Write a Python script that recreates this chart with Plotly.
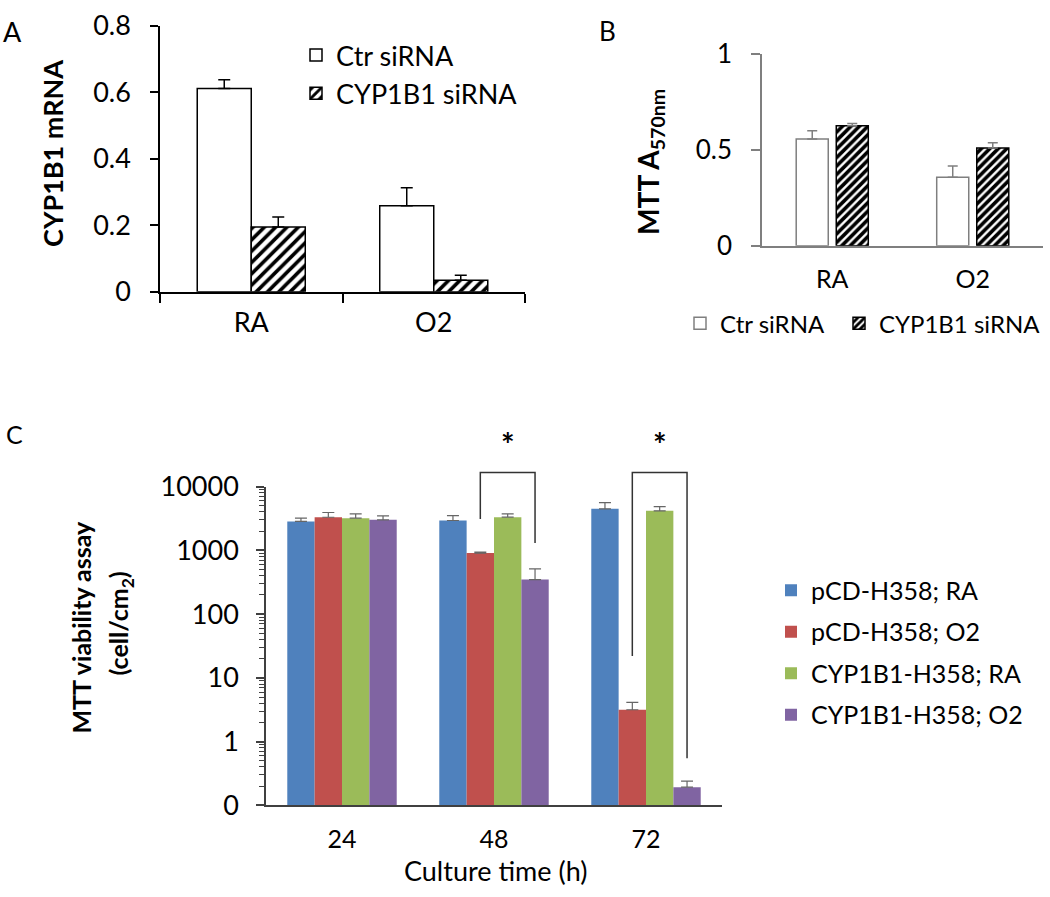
import math
import plotly.graph_objects as go

W, H = 1050, 897
FONT = 'Lato'
# the photographed page comes out vertically squeezed and pushed down a little;
# targets below are picture pixels and get mapped back to page pixels
SQ, DROP = 0.964, 19

# ---- panel A: CYP1B1 mRNA ----
a_groups = ['RA', 'O2']
a_ctr = [0.612, 0.259]
a_ctr_err = [0.026, 0.054]
a_cyp = [0.195, 0.035]
a_cyp_err = [0.030, 0.015]

# ---- panel B: MTT A570nm ----
b_groups = ['RA', 'O2']
b_ctr = [0.557, 0.358]
b_ctr_err = [0.043, 0.058]
b_cyp = [0.626, 0.510]
b_cyp_err = [0.011, 0.027]

# ---- panel C: MTT viability (cell/cm2), log axis ----
c_times = ['24', '48', '72']
c_names = ['pCD-H358; RA', 'pCD-H358; O2', 'CYP1B1-H358; RA', 'CYP1B1-H358; O2']
c_pcd_ra = [2840, 2940, 4480]
c_pcd_ra_err = [360, 580, 1140]
c_pcd_o2 = [3310, 908, 3.16]
c_pcd_o2_err = [615, 34, 0.96]
c_cyp_ra = [3200, 3320, 4170]
c_cyp_ra_err = [540, 420, 700]
c_cyp_o2 = [3010, 348, 0.193]
c_cyp_o2_err = [470, 163, 0.047]
c_colors = ['#4F81BD', '#C0504D', '#9BBB59', '#8064A2']
c_tickvals = [0.1, 1, 10, 100, 1000, 10000]
c_ticktext = ['0', '1', '10', '100', '1000', '10000']

# significance brackets: (time index, left bar, right bar)
sig_pairs = [(1, 1, 3), (2, 1, 3)]
sig_top = 16600
sig_left_bottom = [3100, 22]
sig_right_bottom = [1300, 0.55]


def px(x):
    return x / W


def py(y):
    page_y = max((y - DROP) / SQ, 0)
    return 1 - page_y / H


# plot areas in picture pixels (left, right, top, bottom)
A_BOX = (160, 525, 27, 293)
B_BOX = (762, 1043, 55, 247)
C_BOX = (266, 722, 488, 807)


def dom(box):
    return [px(box[0]), px(box[1])], [py(box[3]), py(box[2])]


fig = go.Figure()

# A bars
aw = 0.296
fig.add_trace(go.Bar(
    x=a_groups, y=a_ctr, name='Ctr siRNA', xaxis='x', yaxis='y', legend='legend',
    width=aw, offset=-aw,
    marker=dict(color='white', line=dict(color='black', width=1.5)),
    error_y=dict(type='data', array=a_ctr_err, arrayminus=[0, 0], symmetric=False,
                 color='black', thickness=1.5, width=6)))
fig.add_trace(go.Bar(
    x=a_groups, y=a_cyp, name='CYP1B1 siRNA', xaxis='x', yaxis='y', legend='legend',
    width=aw, offset=0,
    marker=dict(color='white', line=dict(color='black', width=1.5),
                pattern=dict(shape='/', size=8, solidity=0.45, fgcolor='black',
                             bgcolor='white', fgopacity=1)),
    error_y=dict(type='data', array=a_cyp_err, arrayminus=[0, 0], symmetric=False,
                 color='black', thickness=1.5, width=6)))

# B bars
bw = 0.228
bgap = 0.057
fig.add_trace(go.Bar(
    x=b_groups, y=b_ctr, name='Ctr siRNA', xaxis='x2', yaxis='y2', legend='legend2',
    legendwidth=114,
    width=bw, offset=-bw - bgap / 2,
    marker=dict(color='white', line=dict(color='#7f7f7f', width=1.5)),
    error_y=dict(type='data', array=b_ctr_err, arrayminus=[0, 0], symmetric=False,
                 color='#7f7f7f', thickness=1.5, width=5)))
fig.add_trace(go.Bar(
    x=b_groups, y=b_cyp, name='CYP1B1 siRNA', xaxis='x2', yaxis='y2', legend='legend2',
    width=bw, offset=bgap / 2,
    marker=dict(color='white', line=dict(color='black', width=1.5),
                pattern=dict(shape='/', size=6, solidity=0.6, fgcolor='black',
                             bgcolor='white', fgopacity=1)),
    error_y=dict(type='data', array=b_cyp_err, arrayminus=[0, 0], symmetric=False,
                 color='#7f7f7f', thickness=1.5, width=5)))

# C bars
cw = 0.18
c_vals = [c_pcd_ra, c_pcd_o2, c_cyp_ra, c_cyp_o2]
c_errs = [c_pcd_ra_err, c_pcd_o2_err, c_cyp_ra_err, c_cyp_o2_err]
for k, (name, vals, errs, col) in enumerate(zip(c_names, c_vals, c_errs, c_colors)):
    fig.add_trace(go.Bar(
        x=c_times, y=vals, name=name, xaxis='x3', yaxis='y3', legend='legend3',
        legendgroup=name, width=cw, offset=(k - 2) * cw,
        marker=dict(color=col, line=dict(width=0)),
        error_y=dict(type='data', array=errs, arrayminus=[0] * len(vals), symmetric=False,
                     color='#666666', thickness=1.2, width=6)))

ax, ay = dom(A_BOX)
bx, by = dom(B_BOX)
cx, cy = dom(C_BOX)

fig.update_layout(
    width=W, height=H,
    margin=dict(l=0, r=0, t=0, b=0),
    paper_bgcolor='white', plot_bgcolor='white',
    font=dict(family=FONT, color='black'),
    barmode='group',
    xaxis=dict(domain=ax, anchor='y', type='category', range=[-0.5, 1.5],
               showline=True, linecolor='black', linewidth=1.5,
               ticks='outside', tickson='boundaries', ticklen=9, tickwidth=1.5, tickcolor='black',
               tickfont=dict(family=FONT, size=27, color='black'), ticklabelstandoff=6,
               showgrid=False),
    yaxis=dict(domain=ay, anchor='x', range=[0, 0.8], tickvals=[0, 0.2, 0.4, 0.6, 0.8],
               showline=True, linecolor='black', linewidth=1.5,
               ticks='outside', ticklen=8, tickwidth=1.5, tickcolor='black',
               tickfont=dict(family=FONT, size=27, color='black'), ticklabelstandoff=14,
               showgrid=False, zeroline=False),
    xaxis2=dict(domain=bx, anchor='y2', type='category', range=[-0.5, 1.5],
                showline=True, linecolor='#7f7f7f', linewidth=1.5, ticks='',
                tickfont=dict(family=FONT, size=25, color='black'), ticklabelstandoff=10,
                showgrid=False),
    yaxis2=dict(domain=by, anchor='x2', range=[0, 1], tickvals=[0, 0.5, 1],
                showline=True, linecolor='#7f7f7f', linewidth=1.5,
                ticks='outside', ticklen=9, tickwidth=1.5, tickcolor='#7f7f7f',
                tickfont=dict(family=FONT, size=26, color='black'), ticklabelstandoff=14,
                showgrid=False, zeroline=False),
    xaxis3=dict(domain=cx, anchor='y3', type='category', range=[-0.5, 2.5],
                showline=True, linecolor='#404040', linewidth=1.5, ticks='',
                tickfont=dict(family=FONT, size=25, color='black'), ticklabelstandoff=11,
                showgrid=False),
    yaxis3=dict(domain=cy, anchor='x3', type='log', range=[-1, 4],
                tickvals=c_tickvals, ticktext=c_ticktext,
                showline=True, linecolor='#404040', linewidth=1.5,
                ticks='outside', ticklen=8, tickwidth=1.5, tickcolor='#404040',
                minor=dict(ticks='outside', ticklen=5, tickwidth=1, tickcolor='#404040', dtick='D1'),
                tickfont=dict(family=FONT, size=27, color='black'), ticklabelstandoff=12,
                showgrid=False, zeroline=False),
    legend=dict(x=px(296), y=py(32), xanchor='left', yanchor='top',
                font=dict(family=FONT, size=27, color='black'), bgcolor='rgba(0,0,0,0)',
                tracegroupgap=0),
    legend2=dict(orientation='h', x=px(680), y=py(325), xanchor='left', yanchor='middle',
                 font=dict(family=FONT, size=24, color='black'), bgcolor='rgba(0,0,0,0)'),
    legend3=dict(x=px(771), y=py(654), xanchor='left', yanchor='middle',
                 font=dict(family=FONT, size=25, color='black'), bgcolor='rgba(0,0,0,0)',
                 tracegroupgap=6),
)

# panel letters and axis titles
ann = [
    dict(text='A', x=px(12), y=py(0), yanchor='top', yshift=5, font=dict(size=27)),
    dict(text='B', x=px(607), y=py(0), yanchor='top', yshift=5, font=dict(size=26)),
    dict(text='C', x=px(14), y=py(435), font=dict(size=25)),
    dict(text='<b>CYP1B1 mRNA</b>', x=px(53), y=py(155), textangle=-90, font=dict(size=27)),
    dict(text='<b>MTT A<sub>570nm</sub></b>', x=px(650), y=py(163), textangle=-90, font=dict(size=28)),
    dict(text='<b>MTT viability assay</b>', x=px(81), y=py(629), textangle=-90, font=dict(size=25)),
    dict(text='<b>(cell/cm<sub>2</sub>)</b>', x=px(120), y=py(625), textangle=-90, font=dict(size=25)),
    dict(text='Culture time (h)', x=px(495), y=py(872), font=dict(size=27)),
]
for a in ann:
    a.setdefault('yanchor', 'middle')
    fig.add_annotation(xref='paper', yref='paper', showarrow=False, xanchor='center', **a)


# significance brackets for panel C
def c_xp(i, k):
    centre = i + (k - 2) * cw + cw / 2
    return cx[0] + (centre + 0.5) / len(c_times) * (cx[1] - cx[0])


def c_yp(v):
    return cy[0] + (math.log10(v) + 1) / 5 * (cy[1] - cy[0])


for (i, k1, k2), lb, rb in zip(sig_pairs, sig_left_bottom, sig_right_bottom):
    x1, x2 = c_xp(i, k1), c_xp(i, k2)
    yt = c_yp(sig_top)
    fig.add_shape(type='path', xref='paper', yref='paper',
                  path=f'M {x1},{c_yp(lb)} L {x1},{yt} L {x2},{yt} L {x2},{c_yp(rb)}',
                  line=dict(color='#333333', width=1.5))
    fig.add_annotation(xref='paper', yref='paper', x=(x1 + x2) / 2, y=py(446),
                       text='<b>*</b>', showarrow=False, font=dict(size=32, color='black'))

# pin the plot div to the page corner so the page is exactly the figure size
pin = ("document.body.style.margin='0';"
       "var gd=document.getElementById('{plot_id}');"
       "gd.style.position='absolute';gd.style.left='0px';gd.style.top='0px';")
fig.write_html('out.html', post_script=pin, config={'displayModeBar': False})
